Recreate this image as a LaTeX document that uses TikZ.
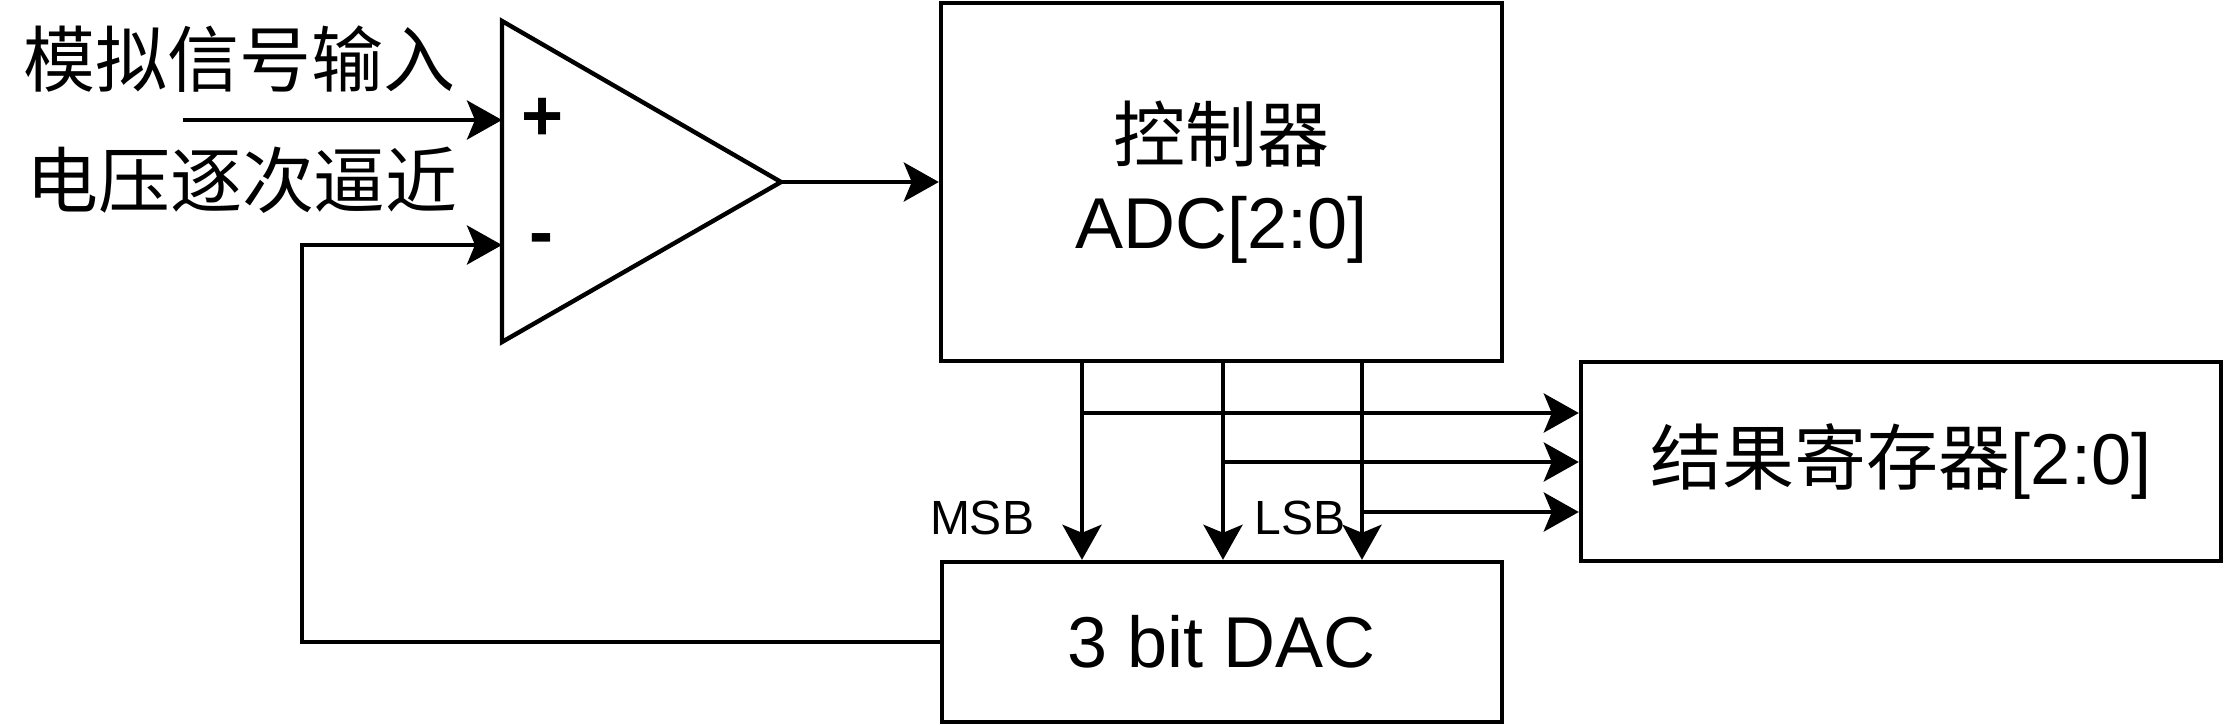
\documentclass[tikz,border=0pt]{standalone}
\usepackage{fontspec}
\setmainfont{Liberation Sans}
\newfontfamily\cjk{Noto Sans CJK SC}
\usetikzlibrary{arrows.meta}
\begin{document}
\begin{tikzpicture}[x=0.5pt,y=-0.5pt,
  line width=2.2pt,
  box/.style={draw, rectangle, inner sep=0pt, font=\fontsize{36}{43.5}\selectfont, align=center},
  big/.style={font=\fontsize{36}{43.5}\selectfont, inner sep=0pt},
  sign/.style={font=\fontsize{36}{43.5}\selectfont\bfseries, inner sep=0pt},
  small/.style={font=\fontsize{24}{28}\selectfont, inner sep=0pt},
  arr/.style={-{Stealth[length=17.5pt,width=19.5pt,inset=4pt]}}]
\useasboundingbox (0,0) rectangle (2224,724);

% comparator
\draw (502,21) -- (781,182) -- (502,342) -- cycle;
\coordinate (inp) at (502,120);
\coordinate (inm) at (502,245);
\coordinate (out) at (781,182);
\node[sign] (plus) at (543,119) {+};
\node[sign] (minus) at (541,245) {-};

% labels
\node[big] (t1) at (240,59) {\cjk 模拟信号输入};
\node[big] (t2) at (242,180) {\cjk 电压逐次逼近};

% boxes
\node[box, minimum width=280.5pt, minimum height=179pt] (ctrl) at (1221.5,182) {{\cjk 控制器}\\ADC[2:0]};
\node[box, minimum width=320pt, minimum height=99.5pt] (res) at (1901,461.5) {{\cjk 结果寄存器}[2:0]};
\node[box, minimum width=280pt, minimum height=80pt] (dac) at (1222,642) {3 bit DAC};

\node[small] (msb) at (982,518) {MSB};
\node[small] (lsb) at (1300,518) {LSB};

% input
\coordinate (vin) at (183,120);
\draw[arr] (vin) -- (inp);
\draw[arr] (out) -- (ctrl.west);

% bit lines
\coordinate (b2) at (1082,413);
\coordinate (b1) at (1223,462);
\coordinate (b0) at (1362,512);
\draw[arr] (ctrl.south -| b2) -- (dac.north -| b2);
\draw[arr] (ctrl.south -| b1) -- (dac.north -| b1);
\draw[arr] (ctrl.south -| b0) -- (dac.north -| b0);
\draw[arr] (b2) -- (b2 -| res.west);
\draw[arr] (b1) -- (b1 -| res.west);
\draw[arr] (b0) -- (b0 -| res.west);

% feedback
\coordinate (fb) at (302,245);
\draw[arr] (dac.west) -| (fb) -- (inm);
\end{tikzpicture}
\end{document}
